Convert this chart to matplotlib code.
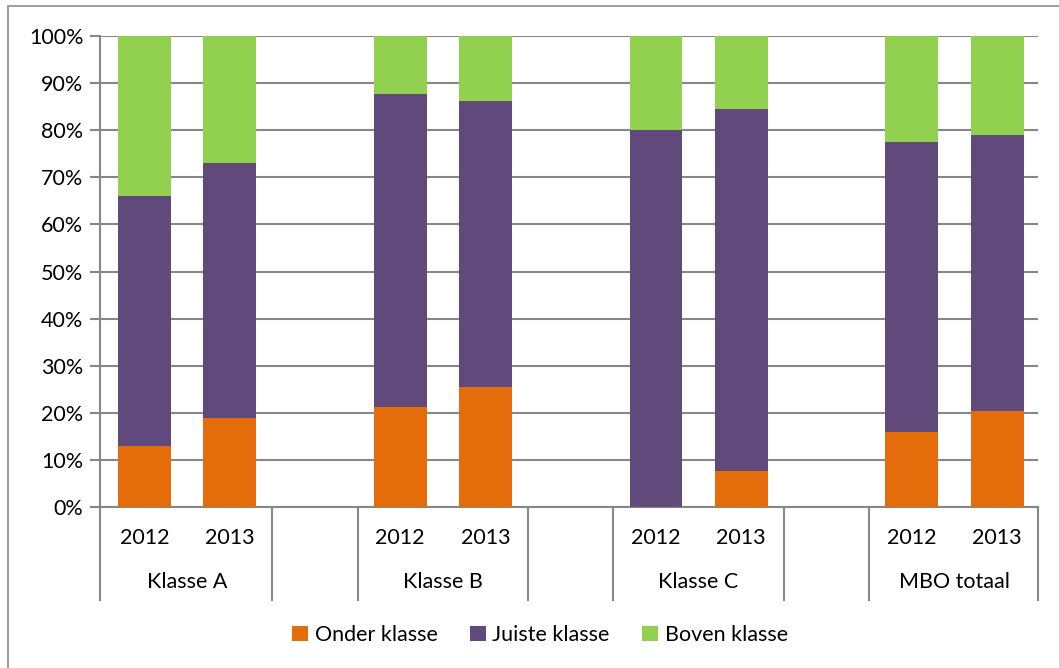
import matplotlib
matplotlib.use("Agg")
import matplotlib.pyplot as plt
import matplotlib.transforms as mtransforms
from matplotlib.patches import Rectangle
from matplotlib.ticker import PercentFormatter

# ---- data (percent of students per group/year) -----------------------------
groups = ["Klasse A", "Klasse B", "Klasse C", "MBO totaal"]
years = ["2012", "2013"]
onder = [13.0, 19.0, 21.2, 25.5, 0.0, 7.7, 16.0, 20.4]
juiste = [53.0, 54.0, 66.5, 60.7, 80.0, 76.9, 61.5, 58.6]
boven = [34.0, 27.0, 12.3, 13.8, 20.0, 15.4, 22.5, 21.0]
series_names = ["Onder klasse", "Juiste klasse", "Boven klasse"]

C_ONDER, C_JUISTE, C_BOVEN = "#E46C0A", "#604A7B", "#92D050"
GRID = "#878787"
FS = 15.5

plt.rcParams["font.family"] = ["Lato", "DejaVu Sans"]

fig = plt.figure(figsize=(10.59, 6.68), dpi=100)
ax = fig.add_axes([100 / 1059, 1 - 507 / 668, 938 / 1059, 471 / 668])

# outer chart frame (only left/top edges visible in the picture)
fig.patches.append(Rectangle((8 / 1059, -0.1), 1.2, 1.1 - 6 / 668,
                             transform=fig.transFigure, fill=False,
                             ec="#8c8c8c", lw=1.2))

# 11 slots: 2 bars per group, one empty slot between groups
xpos = []
for g in range(len(groups)):
    xpos += [g * 3, g * 3 + 1]

bottom2 = [a + b for a, b in zip(onder, juiste)]
w = 0.62
ax.bar(xpos, onder, w, color=C_ONDER, label=series_names[0], zorder=3)
ax.bar(xpos, juiste, w, bottom=onder, color=C_JUISTE,
       label=series_names[1], zorder=3)
ax.bar(xpos, boven, w, bottom=bottom2, color=C_BOVEN,
       label=series_names[2], zorder=3)

ax.set_xlim(-0.52, 10.48)
ax.set_ylim(0, 100)
ax.set_yticks(range(0, 101, 10))
ax.yaxis.set_major_formatter(PercentFormatter(decimals=0))
ax.tick_params(axis="y", length=7, width=1.5, color=GRID, labelsize=FS,
               pad=5)
ax.set_xticks([])
ax.grid(axis="y", color=GRID, lw=1.5, zorder=0)
for s in ("top", "right"):
    ax.spines[s].set_visible(False)
for s in ("left", "bottom"):
    ax.spines[s].set_color(GRID)
    ax.spines[s].set_linewidth(1.5)

# multi-level category axis
trans = mtransforms.blended_transform_factory(ax.transData, ax.transAxes)
low = -(600 - 507) / 471
for x in [-0.52, 1.5, 2.5, 4.5, 5.5, 7.5, 8.5, 10.48]:
    ax.plot([x, x], [0, low], color=GRID, lw=1.5, transform=trans,
            clip_on=False)
for i, x in enumerate(xpos):
    ax.text(x, -(538 - 507) / 471, years[i % 2], transform=trans,
            ha="center", va="center", fontsize=FS)
for g, name in enumerate(groups):
    ax.text(g * 3 + 0.5, -(582 - 507) / 471, name, transform=trans,
            ha="center", va="center", fontsize=FS)

fig.legend(loc="center", bbox_to_anchor=(540 / 1059, 1 - 635 / 668),
           ncol=3, frameon=False, fontsize=FS, handlelength=0.75,
           handleheight=0.75, handletextpad=0.3, columnspacing=1.5)

fig.savefig("out.png", dpi=100)
